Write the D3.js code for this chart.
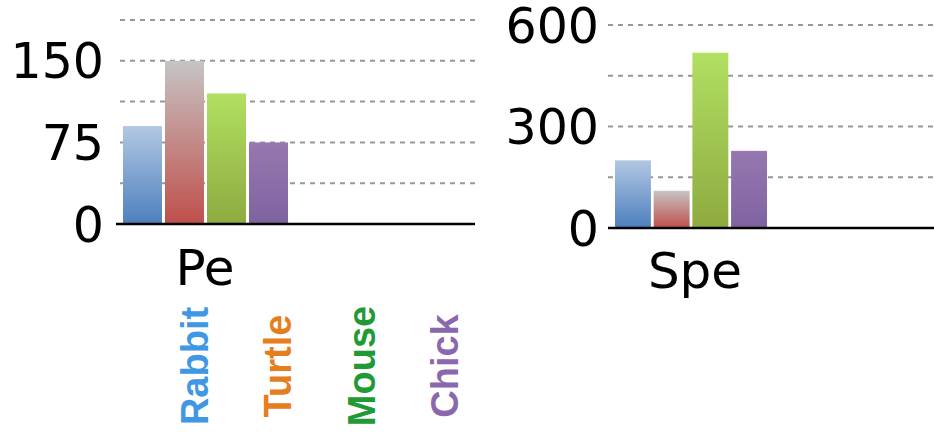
<!DOCTYPE html>
<html>
<head>
<meta charset="utf-8">
<script src="https://cdn.jsdelivr.net/npm/d3@7"></script>
<style>
  html, body { margin: 0; padding: 0; background: #fff; }
  svg { display: block; }
</style>
</head>
<body>
<svg id="chart" width="934" height="440"></svg>
<script>
// ---- data ----
const series = ["Rabbit", "Turtle", "Mouse", "Chick"];
const panelNames = ["Pe", "Spe"];
const peValues = [90, 150, 120, 75];
const speValues = [200, 110, 518, 228];
const peTicks = [0, 75, 150];
const speTicks = [0, 300, 600];
const peGrid = [37.5, 75, 112.5, 150, 187.5];
const speGrid = [150, 300, 450, 600];
const legendColors = ["#3f97e6", "#e67e1e", "#1f9a35", "#8a68ad"];
const barTop = ["#b2c7e3", "#c6c4c4", "#b1e062", "#9677b0"];
const barBottom = ["#4d7fbe", "#c04f4b", "#8eaa3f", "#7f63a1"];

const svg = d3.select("#chart");
const defs = svg.append("defs");
series.forEach((s, i) => {
  const g = defs.append("linearGradient")
    .attr("id", "grad" + i)
    .attr("x1", 0).attr("y1", 0).attr("x2", 0).attr("y2", 1);
  g.append("stop").attr("offset", "0%").attr("stop-color", barTop[i]);
  g.append("stop").attr("offset", "100%").attr("stop-color", barBottom[i]);
});

const panels = [
  { name: panelNames[0], values: peValues, ticks: peTicks, grid: peGrid, max: 187.5,
    left: 120, right: 475, axisLeft: 116, top: 20, bottom: 224,
    barL: 121.5, barR: 289.5, labelEnd: 104, nameX: 205, nameY: 285 },
  { name: panelNames[1], values: speValues, ticks: speTicks, grid: speGrid, max: 600,
    left: 608, right: 934, axisLeft: 608, top: 25, bottom: 228,
    barL: 613.6, barR: 768.4, labelEnd: 599, nameX: 695, nameY: 288 }
];

panels.forEach(p => {
  const y = d3.scaleLinear().domain([0, p.max]).range([p.bottom, p.top]);
  const x = d3.scaleBand().domain(series).range([p.barL, p.barR])
    .paddingInner(0.0714).paddingOuter(0.0357);
  const g = svg.append("g");

  // gridlines
  g.selectAll("line.grid").data(p.grid).enter().append("line")
    .attr("x1", p.left).attr("x2", p.right)
    .attr("y1", d => y(d)).attr("y2", d => y(d))
    .attr("stroke", "#979797").attr("stroke-width", 2)
    .attr("stroke-dasharray", "5,5");

  // bars
  g.selectAll("rect.bar").data(p.values).enter().append("rect")
    .attr("x", (d, i) => x(series[i]))
    .attr("width", x.bandwidth())
    .attr("y", d => y(d))
    .attr("height", d => y(0) - y(d))
    .attr("fill", (d, i) => "url(#grad" + i + ")");

  // x axis line
  g.append("line")
    .attr("x1", p.axisLeft).attr("x2", p.right)
    .attr("y1", y(0)).attr("y2", y(0))
    .attr("stroke", "#000").attr("stroke-width", 2.5);

  // tick labels
  g.selectAll("text.tick").data(p.ticks).enter().append("text")
    .attr("x", p.labelEnd).attr("y", d => y(d))
    .attr("dy", "0.36em")
    .attr("text-anchor", "end")
    .attr("font-family", "DejaVu Sans")
    .attr("font-size", 49)
    .attr("fill", "#000")
    .text(d => d);

  // category label
  g.append("text")
    .attr("x", p.nameX).attr("y", p.nameY)
    .attr("text-anchor", "middle")
    .attr("font-family", "DejaVu Sans")
    .attr("font-size", 50)
    .attr("fill", "#000")
    .text(p.name);
});

// legend (rotated labels)
svg.append("g").selectAll("text").data(series).enter().append("text")
  .attr("transform", (d, i) => `translate(${208 + i * 83.3},366) rotate(-90)`)
  .attr("text-anchor", "middle")
  .attr("font-family", "Liberation Sans, Arial, sans-serif")
  .attr("font-weight", "bold")
  .attr("font-size", 38)
  .attr("fill", (d, i) => legendColors[i])
  .text(d => d);
</script>
</body>
</html>
